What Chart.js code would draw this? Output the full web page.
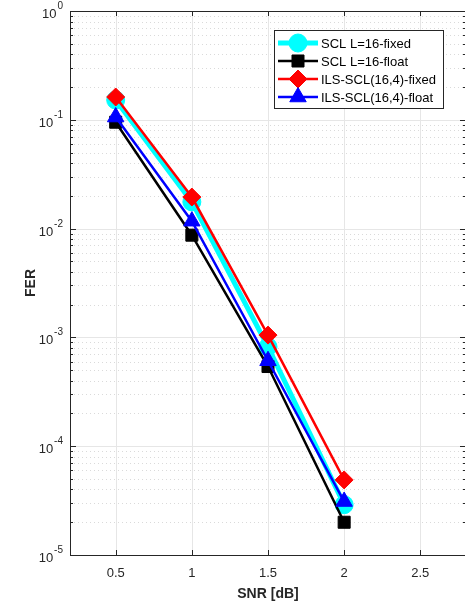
<!DOCTYPE html>
<html>
<head>
<meta charset="utf-8">
<script src="https://cdn.jsdelivr.net/npm/chart.js@4/dist/chart.umd.min.js"></script>
<style>
  html, body { margin: 0; padding: 0; background: #fff; overflow: hidden; }
  #wrap { width: 465px; height: 610px; overflow: hidden; }
</style>
</head>
<body>
<div id="wrap"><canvas id="ferChart" width="468" height="610"></canvas></div>
<script>
// data
const snr = [0.5, 1, 1.5, 2];
const sclFixed = [0.152, 0.0176, 8.2e-4, 2.9e-5];
const sclFloat = [0.095, 0.0087, 5.4e-4, 2.0e-5];
const ilsFixed = [0.162, 0.0195, 1.05e-3, 4.9e-5];
const ilsFloat = [0.106, 0.0117, 6.1e-4, 3.1e-5];
const xTicks = [0.5, 1, 1.5, 2, 2.5];
const yExponents = [0, -1, -2, -3, -4, -5];

const FONT = '"Liberation Sans", Arial, Helvetica, sans-serif';
const AXIS = '#262626';

function pts(ys) {
  return snr.map((x, i) => ({ x: x, y: ys[i] }));
}

// grid, inward ticks, box, superscript y labels, titles, legend
const matlabAxes = {
  id: 'matlabAxes',
  beforeDatasetsDraw(chart) {
    const { ctx, chartArea: a, scales: { x, y } } = chart;
    ctx.save();
    // minor y grid (dotted)
    ctx.strokeStyle = '#dadada';
    ctx.lineWidth = 1;
    ctx.setLineDash([1, 3]);
    for (let k = -5; k < 0; k++) {
      for (let m = 2; m <= 9; m++) {
        const py = Math.round(y.getPixelForValue(m * Math.pow(10, k))) + 0.5;
        ctx.beginPath(); ctx.moveTo(a.left, py); ctx.lineTo(a.right, py); ctx.stroke();
      }
    }
    // major grid
    ctx.setLineDash([]);
    ctx.strokeStyle = '#e6e6e6';
    yExponents.forEach(e => {
      const py = Math.round(y.getPixelForValue(Math.pow(10, e))) + 0.5;
      ctx.beginPath(); ctx.moveTo(a.left, py); ctx.lineTo(a.right, py); ctx.stroke();
    });
    xTicks.forEach(v => {
      const px = Math.round(x.getPixelForValue(v)) + 0.5;
      ctx.beginPath(); ctx.moveTo(px, a.top); ctx.lineTo(px, a.bottom); ctx.stroke();
    });
    ctx.restore();
  },
  afterDatasetsDraw(chart) {
    const { ctx, chartArea: a, scales: { x, y } } = chart;
    ctx.save();
    ctx.strokeStyle = AXIS;
    ctx.lineWidth = 1;
    // box
    ctx.strokeRect(a.left + 0.5, a.top + 0.5, a.right - a.left - 1, a.bottom - a.top);
    // inward ticks
    ctx.beginPath();
    xTicks.forEach(v => {
      const px = Math.round(x.getPixelForValue(v)) + 0.5;
      ctx.moveTo(px, a.bottom); ctx.lineTo(px, a.bottom - 5);
      ctx.moveTo(px, a.top); ctx.lineTo(px, a.top + 5);
    });
    for (let k = -5; k <= 0; k++) {
      const py = Math.round(y.getPixelForValue(Math.pow(10, k))) + 0.5;
      ctx.moveTo(a.left, py); ctx.lineTo(a.left + 6, py);
      ctx.moveTo(a.right, py); ctx.lineTo(a.right - 6, py);
      if (k < 0) {
        for (let m = 2; m <= 9; m++) {
          const q = Math.round(y.getPixelForValue(m * Math.pow(10, k))) + 0.5;
          ctx.moveTo(a.left, q); ctx.lineTo(a.left + 3, q);
          ctx.moveTo(a.right, q); ctx.lineTo(a.right - 3, q);
        }
      }
    }
    ctx.stroke();

    // y tick labels 10^k
    ctx.fillStyle = AXIS;
    ctx.textBaseline = 'alphabetic';
    yExponents.forEach(e => {
      const py = y.getPixelForValue(Math.pow(10, e));
      ctx.font = '10px ' + FONT;
      const sup = String(e);
      const sw = ctx.measureText(sup).width;
      ctx.textAlign = 'left';
      const supX = a.left - 7 - sw;
      ctx.fillText(sup, supX, py - 2);
      ctx.font = '13px ' + FONT;
      ctx.textAlign = 'right';
      ctx.fillText('10', supX - 1, py + 7);
    });

    // axis titles
    ctx.font = 'bold 14px ' + FONT;
    ctx.textAlign = 'center';
    ctx.textBaseline = 'middle';
    ctx.fillText('SNR [dB]', 268, 594);
    ctx.save();
    ctx.translate(31, (a.top + a.bottom) / 2);
    ctx.rotate(-Math.PI / 2);
    ctx.fillText('FER', 0, 0);
    ctx.restore();

    // legend in the upper right
    const bx = 274, by = 30, bw = 169, bh = 78;
    ctx.fillStyle = '#fff';
    ctx.fillRect(bx, by, bw, bh);
    ctx.strokeStyle = AXIS;
    ctx.lineWidth = 1;
    ctx.strokeRect(bx + 0.5, by + 0.5, bw, bh);
    chart.data.datasets.forEach((ds, i) => {
      const ry = by + 13 + i * 18;
      ctx.strokeStyle = ds.borderColor;
      ctx.lineWidth = ds.borderWidth;
      ctx.beginPath(); ctx.moveTo(bx + 4, ry); ctx.lineTo(bx + 44, ry); ctx.stroke();
      ctx.fillStyle = ds.pointBackgroundColor;
      ctx.strokeStyle = ds.pointBorderColor;
      ctx.lineWidth = 1;
      Chart.helpers.drawPoint(ctx, {
        pointStyle: ds.pointStyle, radius: ds.pointRadius, borderWidth: 1, rotation: 0
      }, bx + 24, ry);
      ctx.fillStyle = '#000';
      ctx.font = '13px ' + FONT;
      ctx.textAlign = 'left';
      ctx.textBaseline = 'middle';
      ctx.fillText(ds.label, bx + 47, ry + 1);
    });
    ctx.restore();
  }
};

function series(label, ys, color, style, radius, width, order) {
  return {
    label: label,
    data: pts(ys),
    borderColor: color,
    backgroundColor: color,
    borderWidth: width,
    pointStyle: style,
    pointRadius: radius,
    pointHoverRadius: radius,
    pointBackgroundColor: color,
    pointBorderColor: color,
    pointBorderWidth: 1,
    tension: 0,
    order: order
  };
}

new Chart(document.getElementById('ferChart'), {
  type: 'line',
  data: {
    datasets: [
      series('SCL L=16-fixed', sclFixed, '#00ffff', 'circle', 9, 5, 4),
      series('SCL L=16-float', sclFloat, '#000000', 'rect', 8.5, 2.5, 3),
      series('ILS-SCL(16,4)-fixed', ilsFixed, '#ff0000', 'rectRot', 9, 2.5, 2),
      series('ILS-SCL(16,4)-float', ilsFloat, '#0000ff', 'triangle', 9.5, 2.5, 1)
    ]
  },
  options: {
    responsive: false,
    animation: false,
    layout: { autoPadding: false, padding: { left: 0, top: 11, right: 2, bottom: 0 } },
    plugins: {
      legend: { display: false },
      tooltip: { enabled: false }
    },
    scales: {
      x: {
        type: 'linear',
        min: 0.2,
        max: 2.8,
        grid: { display: false, drawTicks: false },
        border: { display: false },
        afterBuildTicks: s => { s.ticks = xTicks.map(v => ({ value: v })); },
        afterFit: s => {
          s.height = 55;
          s.paddingLeft = 0; s.paddingRight = 0;
        },
        ticks: {
          padding: 11,
          color: AXIS,
          font: { family: FONT, size: 13 },
          maxRotation: 0,
          callback: v => String(v)
        }
      },
      y: {
        type: 'logarithmic',
        min: 1e-5,
        max: 1,
        grid: { display: false, drawTicks: false },
        border: { display: false },
        ticks: { display: false },
        afterFit: s => {
          s.width = 70;
          s.paddingTop = 0; s.paddingBottom = 0;
        }
      }
    }
  },
  plugins: [matlabAxes]
});
</script>
</body>
</html>
